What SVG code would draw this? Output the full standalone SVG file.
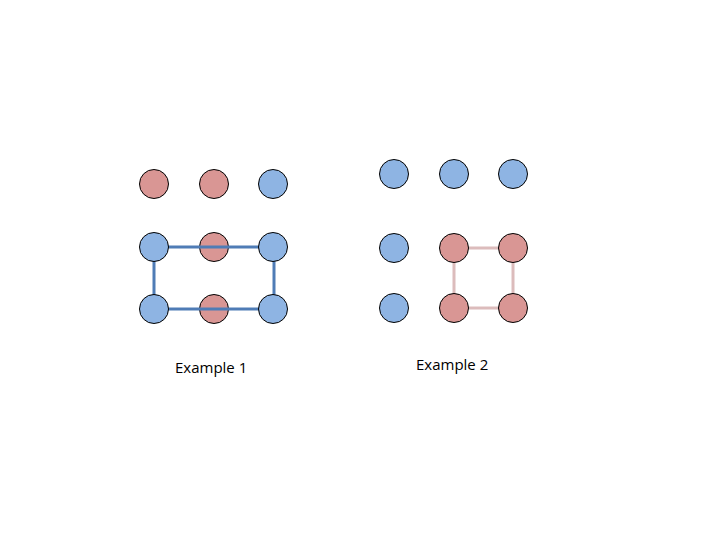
<svg xmlns="http://www.w3.org/2000/svg" width="720" height="540" viewBox="0 0 720 540">
<style>
.b{fill:#8eb4e3;stroke:#000;stroke-width:1}
.r{fill:#d99694;stroke:#000;stroke-width:1}
.t{font-family:"Open Sans","Liberation Sans",sans-serif;font-size:15px;fill:#000}
</style>
<rect width="720" height="540" fill="#fff"/>
<g id="ex1-bottom">
<circle id="n1-12" class="r" cx="214" cy="247" r="14.5"/>
<circle id="n1-22" class="r" cx="214" cy="309" r="14.5"/>
</g>
<g id="connectors">
<rect x="154" y="247" width="120" height="62" fill="none" stroke="#4f7cb6" stroke-width="3"/>
<rect x="454" y="248" width="59" height="60" fill="none" stroke="#dcbcbc" stroke-width="3"/>
</g>
<g id="ex1">
<circle id="n1-00" class="r" cx="154" cy="184" r="14.5"/>
<circle id="n1-01" class="r" cx="214" cy="184" r="14.5"/>
<circle id="n1-02" class="b" cx="273" cy="184" r="14.5"/>
<circle id="n1-10" class="b" cx="154" cy="247" r="14.5"/>
<circle id="n1-11" class="b" cx="273" cy="247" r="14.5"/>
<circle id="n1-20" class="b" cx="154" cy="309" r="14.5"/>
<circle id="n1-21" class="b" cx="273" cy="309" r="14.5"/>
</g>
<g id="ex2">
<circle id="n2-00" class="b" cx="394" cy="174" r="14.5"/>
<circle id="n2-01" class="b" cx="454" cy="174" r="14.5"/>
<circle id="n2-02" class="b" cx="513" cy="174" r="14.5"/>
<circle id="n2-10" class="b" cx="394" cy="248" r="14.5"/>
<circle id="n2-11" class="r" cx="454" cy="248" r="14.5"/>
<circle id="n2-12" class="r" cx="513" cy="248" r="14.5"/>
<circle id="n2-20" class="b" cx="394" cy="308" r="14.5"/>
<circle id="n2-21" class="r" cx="454" cy="308" r="14.5"/>
<circle id="n2-22" class="r" cx="513" cy="308" r="14.5"/>
</g>
<text class="t" x="175" y="373">Example 1</text>
<text class="t" x="416" y="370">Example 2</text>
</svg>
